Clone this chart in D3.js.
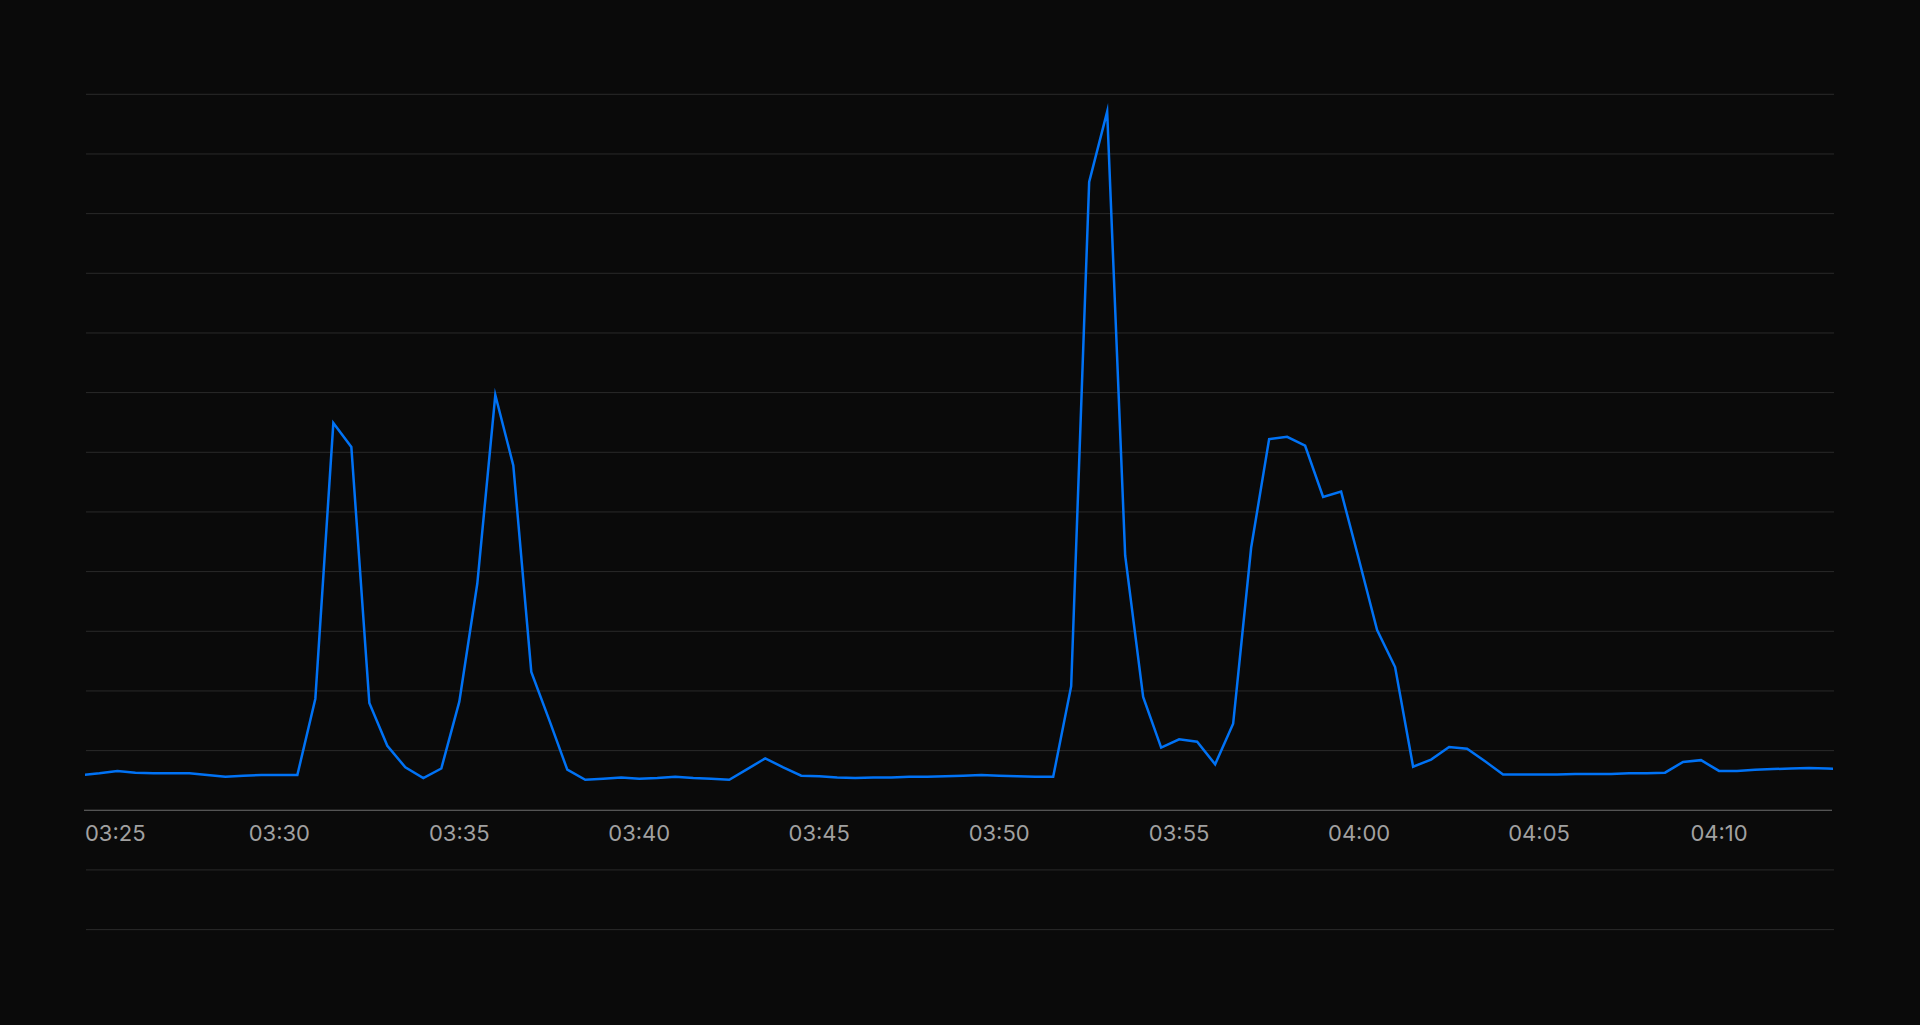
<!DOCTYPE html>
<html><head><meta charset="utf-8">
<script src="https://cdn.jsdelivr.net/npm/d3@7"></script>
<style>
html,body{margin:0;padding:0;background:#0a0a0a;overflow:hidden;}
svg{display:block;}
</style></head><body>
<svg id="chart" width="1920" height="1025"></svg>
<script>
// ---- data ----
const startTime = "03:24:30";
const stepSeconds = 30;
const values = [
  5.9, 6.2, 6.6, 6.3, 6.2, 6.2, 6.2, 5.9, 5.6, 5.8,
  5.9, 5.9, 5.9, 18.7, 64.9, 60.9, 18.0, 10.8, 7.2, 5.4,
  7.0, 18.2, 38.0, 69.6, 57.8, 23.2, 15.1, 6.8, 5.1, 5.3,
  5.5, 5.3, 5.4, 5.6, 5.4, 5.3, 5.1, 6.9, 8.7, 7.2,
  5.8, 5.7, 5.5, 5.4, 5.5, 5.5, 5.6, 5.6, 5.7, 5.8,
  5.9, 5.8, 5.7, 5.6, 5.6, 20.8, 105.3, 117.1, 42.7, 19.0,
  10.5, 11.9, 11.5, 7.7, 14.5, 44.0, 62.2, 62.6, 61.1, 52.5,
  53.4, 41.9, 30.2, 24.0, 7.3, 8.5, 10.6, 10.3, 8.2, 6.0,
  6.0, 6.0, 6.0, 6.1, 6.1, 6.1, 6.2, 6.2, 6.3, 8.1,
  8.4, 6.6, 6.6, 6.8, 6.9, 7.0, 7.1, 7.0, 6.9
];
const domainStart = "03:24:36";
const domainEnd = "04:13:10";
const tickLabels = ["03:25","03:30","03:35","03:40","03:45","03:50","03:55","04:00","04:05","04:10"];
const yDomain = [-20, 120];
const yTicks = [-20,-10,0,10,20,30,40,50,60,70,80,90,100,110,120];

// ---- layout ----
const plotLeft = 85, plotRight = 1833, plotTop = 94.3, plotBottom = 929.6;
const parse = d3.timeParse("%H:%M:%S");
const t0 = parse(startTime);
const data = values.map((v, i) => ({ t: new Date(t0.getTime() + i * stepSeconds * 1000), v }));

const x = d3.scaleTime().domain([parse(domainStart), parse(domainEnd)]).range([plotLeft, plotRight]);
const y = d3.scaleLinear().domain(yDomain).range([plotBottom, plotTop]);

const svg = d3.select("#chart");
svg.append("rect").attr("width", 1920).attr("height", 1025).attr("fill", "#0a0a0a");

svg.append("defs").append("clipPath").attr("id", "clip")
  .append("rect").attr("x", plotLeft).attr("y", 0).attr("width", plotRight - plotLeft).attr("height", 1025);

// grid
svg.append("g").selectAll("line")
  .data(yTicks.filter(d => d !== 0))
  .join("line")
  .attr("x1", plotLeft + 1).attr("x2", plotRight + 1)
  .attr("y1", d => y(d)).attr("y2", d => y(d))
  .attr("stroke", "#2a2a2a").attr("stroke-width", 1);

// x axis baseline
svg.append("line")
  .attr("x1", plotLeft - 1).attr("x2", plotRight - 1)
  .attr("y1", y(0)).attr("y2", y(0))
  .attr("stroke", "#6e6e6e").attr("stroke-width", 1.2);

// tick labels
const labels = svg.append("g").selectAll("text")
  .data(tickLabels)
  .join("text")
  .attr("x", d => x(parse(d + ":00")))
  .attr("y", 841)
  .attr("text-anchor", "middle")
  .attr("fill", "#a1a1a1")
  .style("font-family", "Inter, 'Noto Sans', sans-serif")
  .style("font-size", "22px")
  .text(d => d);
labels.each(function() {
  const b = this.getBBox();
  const sel = d3.select(this);
  if (b.x < plotLeft) sel.attr("x", +sel.attr("x") + (plotLeft - b.x));
  if (b.x + b.width > plotRight) sel.attr("x", +sel.attr("x") - (b.x + b.width - plotRight));
});

// line
const line = d3.line().x(d => x(d.t)).y(d => y(d.v));
svg.append("path")
  .datum(data)
  .attr("clip-path", "url(#clip)")
  .attr("d", line)
  .attr("fill", "none")
  .attr("stroke", "#0072f5")
  .attr("stroke-width", 2.5)
  .attr("stroke-linejoin", "miter")
  .attr("stroke-miterlimit", 10);
</script>
</body></html>
